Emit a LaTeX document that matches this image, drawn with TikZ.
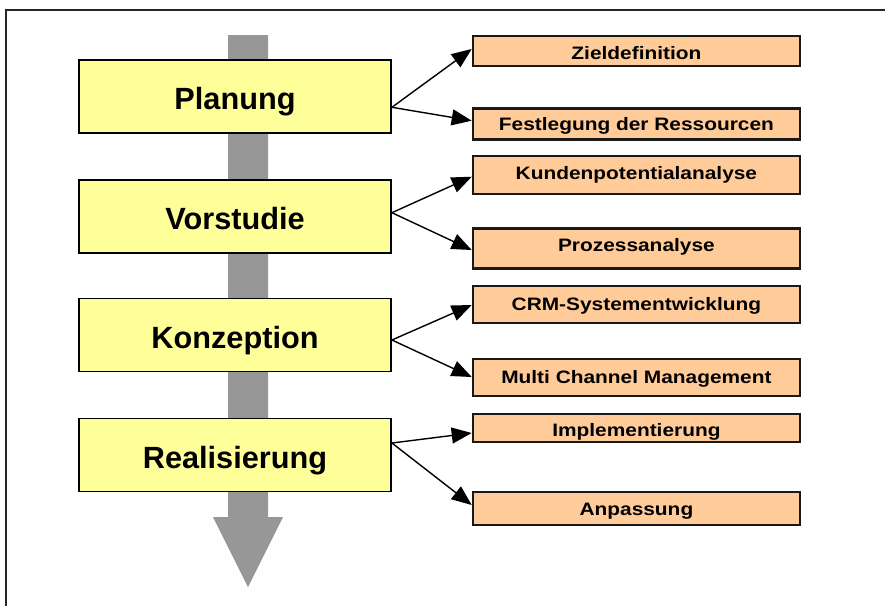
\documentclass[tikz,border=0pt]{standalone}
\usepackage{fontspec}
\setmainfont{Liberation Sans}
\newfontfamily\subfnt[FakeStretch=1.16]{Liberation Sans}
\usetikzlibrary{arrows.meta}

\definecolor{phasefill}{HTML}{FFFF99}
\definecolor{taskfill}{HTML}{FFCC99}
\definecolor{flowgray}{HTML}{979797}

\tikzset{
  phase/.style={draw=black, line width=1.8pt, fill=phasefill,
    minimum width=312pt, minimum height=73pt, inner sep=0pt,
    font=\bfseries\fontsize{30.7}{34}\selectfont,
    text height=26pt, text depth=0pt},
  taskbox/.style={draw=black!90, line width=2.4pt, fill=taskfill,
    minimum width=327pt, inner sep=0pt, text depth=0pt,
    font=\subfnt\bfseries\fontsize{18}{21}\selectfont},
  tasklabel/.style={inner sep=0pt, text depth=0pt,
    font=\subfnt\bfseries\fontsize{18}{21}\selectfont},
  link/.style={line width=1.4pt, -{Triangle[length=20pt,width=16pt]}},
}

\begin{document}
\begin{tikzpicture}[x=1pt, y=-1pt]
\useasboundingbox (0,0) rectangle (885,605);

% outer frame
\draw[line width=1.5pt, black!85] (6,620) -- (6,10) -- (900,10);

% flow arrow behind the phases
\fill[flowgray] (228,35) -- (268,35) -- (268,517) -- (283,517)
  -- (248,587) -- (213,517) -- (228,517) -- cycle;

% phases
\node[phase] (p1) at (235,96.5) {Planung};
\node[phase] (p2) at (235,216.5) {Vorstudie};
\node[phase] (p3) at (235,335) {Konzeption};
\node[phase] (p4) at (235,455) {Realisierung};

% tasks
\node[taskbox, minimum height=30pt, text height=17.5pt] (s1) at (636.4,51) {Zieldefinition};
\node[taskbox, minimum height=31pt, text height=14.3pt] (s2) at (636.4,123.8) {Festlegung der Ressourcen};
\node[taskbox, minimum height=38pt, text height=8.9pt] (s3) at (636.4,175) {Kundenpotentialanalyse};
\node[taskbox, minimum height=40pt, text height=6.3pt] (s4) at (636.4,248.3) {Prozessanalyse};
\node[taskbox, minimum height=37pt, text height=11.3pt] (s5) at (636.4,304.5) {CRM-Systementwicklung};
\node[taskbox, minimum height=37pt, text height=11.9pt] (s6) at (636.4,377.5) {Multi Channel Management};
\node[taskbox, minimum height=28pt,
  path picture={\node[tasklabel, text height=16.9pt]
    at (path picture bounding box.center) {Implementierung};}] (s7) at (636.4,428) {};
\node[taskbox, minimum height=33pt, text height=14.7pt] (s8) at (636.4,508.5) {Anpassung};

% connectors
\draw[link] ([yshift=-10.8pt]p1.east) -- ([yshift=2pt]s1.west);
\draw[link] ([yshift=-10.8pt]p1.east) -- ([yshift=3.1pt]s2.west);
\draw[link] ([yshift=3.8pt]p2.east) -- ([yshift=-1.7pt]s3.west);
\draw[link] ([yshift=3.8pt]p2.east) -- ([yshift=-1.7pt]s4.west);
\draw[link] ([yshift=-5pt]p3.east) -- ([yshift=-0.5pt]s5.west);
\draw[link] ([yshift=-5pt]p3.east) -- ([yshift=0.5pt]s6.west);
\draw[link] ([yshift=12pt]p4.east) -- ([yshift=-5pt]s7.west);
\draw[link] ([yshift=12pt]p4.east) -- ([yshift=3.5pt]s8.west);
\end{tikzpicture}
\end{document}
